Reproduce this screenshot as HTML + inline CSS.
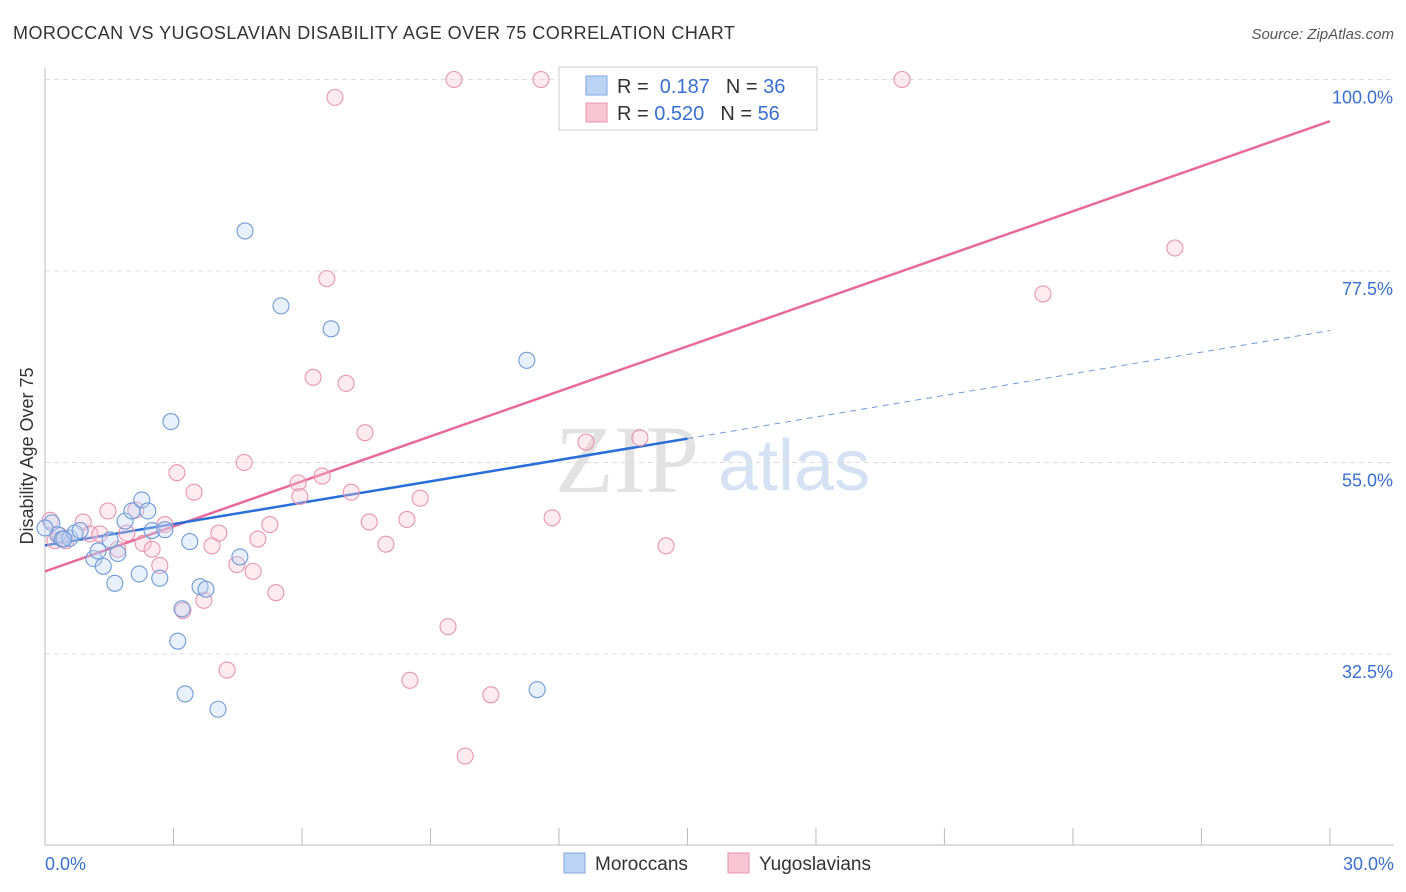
<!DOCTYPE html>
<html><head><meta charset="utf-8"><style>
body{margin:0;background:#fff;font-family:"Liberation Sans",sans-serif;}
#wrap{position:relative;width:1406px;height:892px;overflow:hidden;}
</style></head><body><div id="wrap">
<svg id="svg" width="1406" height="892" xmlns="http://www.w3.org/2000/svg">
<text x="13" y="39" font-size="18" letter-spacing="0.45" fill="#333">MOROCCAN VS YUGOSLAVIAN DISABILITY AGE OVER 75 CORRELATION CHART</text>
<text x="1394" y="39" font-size="15" fill="#555" text-anchor="end" font-style="italic">Source: ZipAtlas.com</text>
<text x="33" y="456" font-size="18" fill="#333" text-anchor="middle" transform="rotate(-90 33 456)">Disability Age Over 75</text>
<text x="555" y="492" font-size="96" fill="#e2e2e2" font-family="Liberation Serif,serif">ZIP</text>
<text x="718" y="490" font-size="72" fill="#d5e2f3">atlas</text>
<g id="grid"></g><g id="axes"></g><g id="lines"></g><g id="pts"></g>
<g>
<rect x="559" y="67" width="258" height="63" fill="#fff" stroke="#ccc"/>
<rect x="586" y="76" width="21" height="19" fill="#bcd4f4" stroke="#7fa6dc"/>
<rect x="586" y="103" width="21" height="19" fill="#f9c5d5" stroke="#e895b0"/>
<text x="617" y="93" font-size="20" fill="#333">R = <tspan fill="#3a6fd0">&#160;0.187</tspan><tspan dx="16">N = </tspan><tspan fill="#3a6fd0">36</tspan></text>
<text x="617" y="120" font-size="20" fill="#333">R = <tspan fill="#3a6fd0">0.520</tspan><tspan dx="16">N = </tspan><tspan fill="#3a6fd0">56</tspan></text>
</g>
<g>
<rect x="564" y="853" width="21" height="20" fill="#bcd4f4" stroke="#7fa6dc"/>
<text x="595" y="870" font-size="19" fill="#333">Moroccans</text>
<rect x="728" y="853" width="21" height="20" fill="#f9c5d5" stroke="#e895b0"/>
<text x="759" y="870" font-size="19" fill="#333">Yugoslavians</text>
</g>
</svg>
<script>
const yTicks=[100,77.5,55,32.5];
const blueX=[0.16,0.3,0.4,0.58,0.7,0.82,1.14,1.24,1.36,1.52,1.63,1.7,1.87,2.03,2.2,2.26,2.4,2.5,2.68,2.8,2.94,3.2,3.1,3.27,3.38,3.62,3.76,4.04,4.55,4.67,5.51,6.68,11.25,11.49,0.0,0.44];
const blueY=[47.9,46.5,46.0,46.1,46.7,47.0,43.7,44.6,42.8,45.9,40.8,44.3,48.1,49.3,41.9,50.6,49.3,47.0,41.4,47.1,59.8,37.8,34.0,27.8,45.7,40.4,40.1,26.0,43.9,82.2,73.4,70.7,67.0,28.3,47.3,46.0];
const pinkX=[0.12,0.23,0.35,0.49,0.89,1.05,1.28,1.47,1.7,1.91,2.12,2.29,2.5,2.68,2.8,3.08,3.22,3.48,3.71,3.9,4.06,4.25,4.48,4.65,4.86,4.97,5.25,5.39,5.91,5.95,6.26,6.47,6.58,6.77,7.03,7.15,7.47,7.57,7.96,8.45,8.52,8.76,9.41,9.55,9.81,10.41,11.58,11.84,12.63,13.54,13.89,14.5,15.53,20.01,23.3,26.38];
const pinkY=[48.2,45.8,46.4,45.8,48.0,46.6,46.6,49.3,44.8,46.7,49.4,45.5,44.8,42.9,47.7,53.8,37.6,51.5,38.8,45.2,46.7,30.6,43.0,55.0,42.2,46.0,47.7,39.7,52.6,51.0,65.0,53.4,76.6,97.9,64.3,51.5,58.5,48.0,45.4,48.3,29.4,50.8,35.7,100,20.5,27.7,100,48.5,57.4,100,57.9,45.2,100,100,74.8,80.2];
const blueLine=[[0,45.25],[15,57.8]], blueDash=[[15,57.8],[30,70.5]];
const pinkLine=[[0,42.2],[30,95.1]];
const X=v=>45+v*42.83, Y=v=>79.5+(100-v)*8.51;
const NS="http://www.w3.org/2000/svg";
function mk(t,a,p){const e=document.createElementNS(NS,t);for(const k in a)e.setAttribute(k,a[k]);document.getElementById(p).appendChild(e);return e;}
yTicks.forEach(t=>{
 const l=mk('line',{x1:45,x2:1394,y1:Y(t),y2:Y(t),stroke:'#ddd','stroke-dasharray':'5,4'},'grid');
 
 
 const tx=mk('text',{x:1393,y:Y(t)+24,'font-size':18,fill:'#3a6fd0','text-anchor':'end'},'grid');tx.textContent=t.toFixed(1)+'%';
 
 
});
mk('line',{x1:45,x2:45,y1:68,y2:845,stroke:'#bbb'},'axes');
mk('line',{x1:45,x2:1394,y1:845,y2:845,stroke:'#bbb'},'axes');
for(let i=0;i<=10;i++){const t=mk('line',{x1:X(i*3),x2:X(i*3),y1:828,y2:845,stroke:'#bbb'},'axes');
 
 }
let a=mk('text',{x:45,y:870,'font-size':18,fill:'#3a6fd0'},'axes');a.textContent='0.0%';


a=mk('text',{x:1394,y:870,'font-size':18,fill:'#3a6fd0','text-anchor':'end'},'axes');a.textContent='30.0%';


function pts(xs,ys,f,s,n){xs.forEach((x,i)=>{const c=mk('circle',{cx:X(x),cy:Y(ys[i]),r:8,fill:f,'fill-opacity':0.35,stroke:s,'stroke-width':1.1},'pts');
 
 });}
pts(pinkX,pinkY,'#f9c5d5','#e895b0','yugoslavian-point');
pts(blueX,blueY,'#bcd4f4','#6f9bd8','moroccan-point');
function ln(p,c,d,n){const l=mk('line',{x1:X(p[0][0]),y1:Y(p[0][1]),x2:X(p[1][0]),y2:Y(p[1][1]),stroke:c,'stroke-width':d?1:2.5},'lines');if(d)l.setAttribute('stroke-dasharray','6,5');
 
 }
ln(pinkLine,'#e8699a',0,'yugoslavian-trend-line');
ln(blueLine,'#2a6fd6',0,'moroccan-trend-line');
ln(blueDash,'#6f9bd8',1,'moroccan-trend-extension');
</script></div></body></html>
